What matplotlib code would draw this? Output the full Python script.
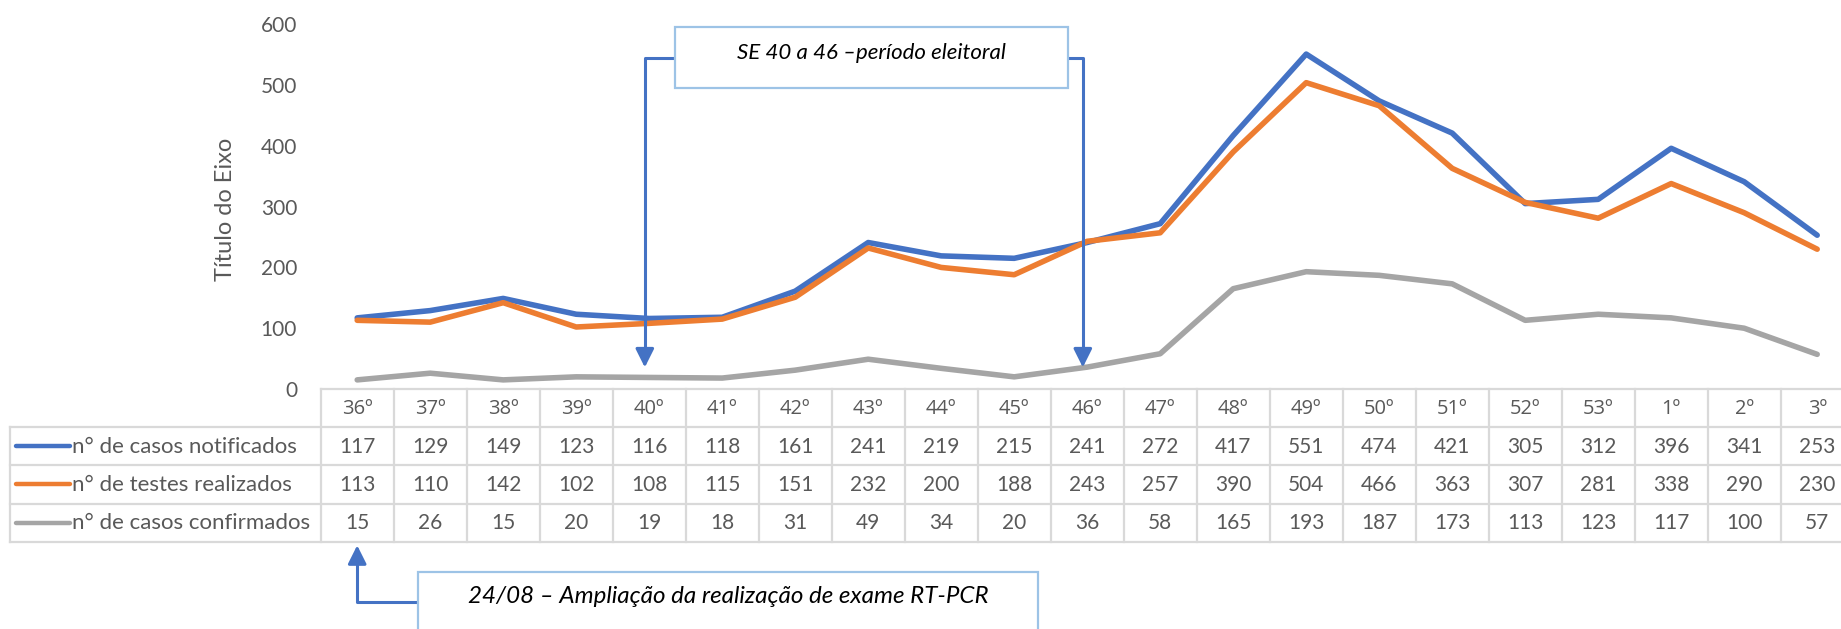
import numpy as np
import matplotlib.pyplot as plt
from matplotlib.patches import Rectangle

plt.rcParams['font.family'] = ['Lato', 'DejaVu Sans']

# semanas epidemiológicas
semanas = ["36º", "37º", "38º", "39º", "40º", "41º", "42º", "43º", "44º", "45º", "46º",
           "47º", "48º", "49º", "50º", "51º", "52º", "53º", "1º", "2º", "3º"]
notificados = [117, 129, 149, 123, 116, 118, 161, 241, 219, 215, 241,
               272, 417, 551, 474, 421, 305, 312, 396, 341, 253]
testes = [113, 110, 142, 102, 108, 115, 151, 232, 200, 188, 243,
          257, 390, 504, 466, 363, 307, 281, 338, 290, 230]
confirmados = [15, 26, 15, 20, 19, 18, 31, 49, 34, 20, 36,
               58, 165, 193, 187, 173, 113, 123, 117, 100, 57]

series = [
    ("n° de casos notificados", notificados, "#4472C4"),
    ("n° de testes realizados", testes, "#ED7D31"),
    ("n° de casos confirmados", confirmados, "#A5A5A5"),
]

W, H = 1841, 629
TXT = "#595959"
GRID = "#D9D9D9"
ARROW = "#4472C4"
BOX = "#9DC3E6"

fig = plt.figure(figsize=(W / 100, H / 100), dpi=100)

# chart area (runs slightly past the right edge, like the original)
ax = fig.add_axes([320.7 / W, 1 - 389 / H, 1533 / W, (389 - 24.3) / H])
x = np.arange(len(semanas))
for name, vals, color in series:
    ax.plot(x, vals, color=color, lw=4, solid_capstyle="round", zorder=3)
ax.set_xlim(-0.5, len(semanas) - 0.5)
ax.set_ylim(0, 600)
ax.set_yticks(range(0, 601, 100))
ax.set_xticks([])
ax.tick_params(axis="y", length=0, pad=17, labelsize=15, labelcolor=TXT)
for s in ax.spines.values():
    s.set_visible(False)
ax.set_ylabel("Título do Eixo", fontsize=17, color=TXT)
ax.yaxis.set_label_coords(-0.0553, 0.492)

# data table under the chart
tab = fig.add_axes([320.7 / W, 1 - 541.8 / H, 1533 / W, 152.8 / H])
tab.set_xlim(-0.5, len(semanas) - 0.5)
tab.set_ylim(4, 0)
tab.axis("off")
left = -4.75
right = len(semanas) - 0.5
for r in range(5):
    tab.plot([-0.5 if r == 0 else left, right], [r, r], color=GRID, lw=1.6, clip_on=False)
for c in np.arange(-0.5, len(semanas), 1.0):
    tab.plot([c, c], [0, 4], color=GRID, lw=1.6, clip_on=False)
tab.plot([left, left], [1, 4], color=GRID, lw=1.6, clip_on=False)

for i, s in enumerate(semanas):
    tab.text(i, 0.52, s, ha="center", va="center", fontsize=14.5, color=TXT,
             family=["Open Sans", "DejaVu Sans"])
for r, (name, vals, color) in enumerate(series, start=1):
    tab.plot([-4.67, -3.93], [r + 0.5, r + 0.5], color=color, lw=3.2,
             solid_capstyle="round", clip_on=False)
    tab.text(-3.9, r + 0.52, name, ha="left", va="center", fontsize=16, color=TXT)
    for i, v in enumerate(vals):
        tab.text(i, r + 0.52, str(v), ha="center", va="center", fontsize=15, color=TXT)

arrow_kw = dict(arrowstyle="-|>", color=ARROW, lw=2.2, mutation_scale=28)

# annotation: election period (SE 40 to 46)
bx0, bx1 = 4.353, 9.741
ax.add_patch(Rectangle((bx0, 494.7), bx1 - bx0, 595 - 494.7, facecolor="white",
                       edgecolor=BOX, lw=1.6, clip_on=False, zorder=5))
ax.text((bx0 + bx1) / 2, 552, "SE 40 a 46 \u2013período eleitoral", ha="center",
        va="center", fontsize=16, style="italic", color="black", zorder=6)
for xa, xb in [(bx0, 3.94), (bx1, 9.94)]:
    ax.plot([xa, xb, xb], [544, 544, 60], color=ARROW, lw=2.2, clip_on=False, zorder=4)
    ax.annotate("", xy=(xb, 31), xytext=(xb, 62), arrowprops=arrow_kw,
                annotation_clip=False)

# annotation: RT-PCR
cx0, cx1 = 0.829, 9.33
tab.add_patch(Rectangle((cx0, 4.78), cx1 - cx0, 2.0, facecolor="white",
                        edgecolor=BOX, lw=1.6, clip_on=False, zorder=5))
tab.text((cx0 + cx1) / 2, 5.44, "24/08 \u2013 Ampliação da realização de exame RT-PCR",
         ha="center", va="center", fontsize=17.4, style="italic", color="black", zorder=6)
tab.plot([cx0, 0, 0], [5.57, 5.57, 4.5], color=ARROW, lw=2.2, clip_on=False, zorder=4)
tab.annotate("", xy=(0, 4.02), xytext=(0, 4.55), arrowprops=arrow_kw,
             annotation_clip=False)

fig.savefig("out.png", dpi=100)
